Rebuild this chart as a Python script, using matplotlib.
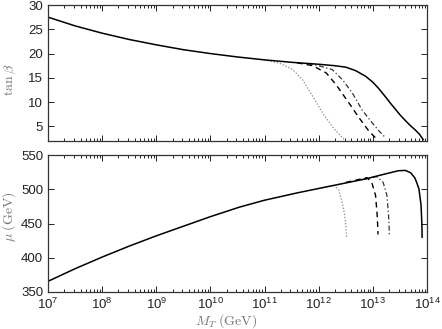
import numpy as np
import matplotlib
matplotlib.use("Agg")
import matplotlib.pyplot as plt
from matplotlib.ticker import LogLocator, NullFormatter, FixedLocator

plt.rcParams['font.family'] = ['Liberation Sans', 'DejaVu Sans']
plt.rcParams['mathtext.fontset'] = 'cm'

# ---- data: log10(M_T / GeV) and values ----
# tan(beta) panel
tb_solid_logx = [7.0, 7.5, 8.0, 8.5, 9.0, 9.5, 10.0, 10.5, 11.0, 11.5, 12.0, 12.3, 12.5, 12.68,
                 12.87, 13.0, 13.1, 13.24, 13.33, 13.42, 13.5, 13.61, 13.7, 13.79, 13.86, 13.93]
tb_solid = [27.5, 25.7, 24.2, 22.9, 21.8, 20.8, 20.0, 19.3, 18.7, 18.2, 17.8, 17.5, 17.2, 16.5,
            15.3, 14.1, 12.9, 11.0, 9.7, 8.5, 7.4, 6.1, 5.1, 4.2, 3.4, 2.3]

tb_dotted_logx = [11.0, 11.28, 11.52, 11.7, 11.89, 12.07, 12.25, 12.36, 12.47]
tb_dotted = [18.7, 18.0, 16.7, 14.6, 11.2, 7.8, 5.0, 3.6, 2.3]

tb_dashed_logx = [11.6, 11.89, 12.14, 12.32, 12.56, 12.75, 12.93, 13.08]
tb_dashed = [18.1, 17.5, 16.0, 13.6, 9.8, 6.7, 4.0, 2.3]

tb_dashdot_logx = [11.8, 12.0, 12.25, 12.44, 12.62, 12.8, 12.99, 13.12, 13.24]
tb_dashdot = [17.9, 17.5, 16.7, 14.6, 11.9, 8.4, 5.7, 4.0, 2.6]

# mu panel (GeV)
mu_solid_logx = [7.0, 7.5, 8.0, 8.5, 9.0, 9.5, 10.0, 10.54, 11.0, 11.62, 12.24, 12.86, 13.16,
                 13.47, 13.6, 13.7, 13.78, 13.85, 13.89, 13.905, 13.91]
mu_solid = [365.6, 384, 401, 417, 432, 446, 460, 474, 484, 495, 505, 515, 521,
            527, 527.5, 524, 516, 501, 477, 450, 430]

mu_dotted_logx = [12.0, 12.28, 12.37, 12.43, 12.48, 12.505, 12.515]
mu_dotted = [501, 506, 499, 482, 462, 445, 428]

mu_dashed_logx = [12.5, 12.89, 12.98, 13.05, 13.08, 13.09, 13.095]
mu_dashed = [510, 517, 510, 491, 462, 445, 434]

mu_dashdot_logx = [12.8, 13.07, 13.19, 13.26, 13.29, 13.30, 13.305]
mu_dashdot = [514, 518.5, 510, 491, 462, 445, 433]

xtick_exps = [7, 8, 9, 10, 11, 12, 13, 14]

fig = plt.figure(figsize=(4.42, 3.29), dpi=100)
ax1 = fig.add_axes([48/442, 1-141/329, 379/442, 136/329])
ax2 = fig.add_axes([48/442, 1-292/329, 379/442, 137/329])

def X(lst):
    return [10.0**v for v in lst]

lw = 1.0
ax1.plot(X(tb_dotted_logx), tb_dotted, color='#888888', ls=(0, (1, 1.5)), lw=0.9)
ax1.plot(X(tb_dashed_logx), tb_dashed, color='black', ls=(0, (4, 3)), lw=lw)
ax1.plot(X(tb_dashdot_logx), tb_dashdot, color='#333333', ls=(0, (4, 2, 1, 2)), lw=0.9)
ax1.plot(X(tb_solid_logx), tb_solid, color='black', ls='-', lw=1.1)

ax2.plot(X(mu_dotted_logx), mu_dotted, color='#888888', ls=(0, (1, 1.5)), lw=0.9)
ax2.plot(X(mu_dashed_logx), mu_dashed, color='black', ls=(0, (4, 3)), lw=lw)
ax2.plot(X(mu_dashdot_logx), mu_dashdot, color='#333333', ls=(0, (4, 2, 1, 2)), lw=0.9)
ax2.plot(X(mu_solid_logx), mu_solid, color='black', ls='-', lw=1.1)

for ax in (ax1, ax2):
    ax.set_xscale('log')
    ax.set_xlim(1e7, 1e14)
    ax.xaxis.set_major_locator(FixedLocator([10.0**e for e in xtick_exps]))
    ax.xaxis.set_minor_locator(LogLocator(base=10, subs=np.arange(2, 10), numticks=20))
    ax.xaxis.set_minor_formatter(NullFormatter())
    ax.tick_params(which='both', direction='in', top=True, right=True, labelsize=9.5,
                   colors='#222222', width=0.7)
    ax.tick_params(which='major', length=4)
    ax.tick_params(which='minor', length=2)
    for s in ax.spines.values():
        s.set_linewidth(0.9)
        s.set_color('#333333')

ax1.set_ylim(2, 30)
ax1.set_yticks([5, 10, 15, 20, 25, 30])
ax1.tick_params(labelbottom=False)
ax2.set_ylim(350, 550)
ax2.set_yticks([350, 400, 450, 500, 550])

lab_col = '#777777'
ax1.set_ylabel(r'$\tan\beta$', color=lab_col, fontsize=10)
ax1.yaxis.set_label_coords(-0.08, 0.45)
ax2.set_ylabel(r'$\mu\;(\mathrm{GeV})$', color=lab_col, fontsize=10)
ax2.yaxis.set_label_coords(-0.08, 0.55)
ax2.set_xlabel(r'$M_T\;(\mathrm{GeV})$', color=lab_col, fontsize=10)
ax2.xaxis.set_label_coords(0.47, -0.15)

fig.savefig('out.png', dpi=100)
